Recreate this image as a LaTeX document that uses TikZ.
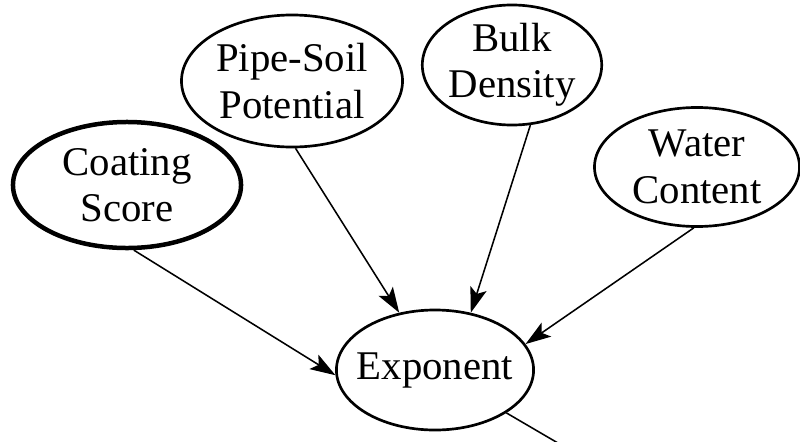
\documentclass[tikz,border=0pt]{standalone}
\usepackage{fontspec}
\setmainfont{Liberation Serif}
\usetikzlibrary{shapes.geometric,arrows.meta}

\begin{document}
\begin{tikzpicture}[x=0.025cm,y=-0.025cm,
		var/.style={shape=ellipse, draw=black, line width=1.9pt, inner sep=0pt, align=center, font=\fontsize{29}{33}\selectfont},
		link/.style={line width=1.1pt, -{Stealth[length=18pt,width=12pt,inset=4pt]}}]
				\useasboundingbox (0,0) rectangle (800,441);
				\clip (0,0) rectangle (800,441);
				\node[var, line width=3.2pt, minimum width=5.7cm, minimum height=3.15cm] (coat) at (127,185) {Coating\\Score};
				\node[var, minimum width=5.525cm, minimum height=3.3cm] (pipe) at (292,81) {Pipe-Soil\\Potential};
				\node[var, minimum width=4.4cm, minimum height=3.0cm] (bulk) at (512,65) {Bulk\\Density};
				\node[var, minimum width=5.125cm, minimum height=2.975cm] (water) at (697,167) {Water\\Content};
				\node[var, inner xsep=-6pt, minimum width=4.875cm, minimum height=3.0cm] (expo) at (435,370) {Exponent};
				\coordinate (out) at (575,453);
				\draw[link] (coat.-84) -- (expo.183);
				\draw[link] (pipe.-87) -- (expo.122);
				\draw[link] (bulk.-73) -- (expo.58);
				\draw[link] (water.-93) -- (expo.16);
				\draw[line width=1.1pt] (expo.-31) -- (out);
			\end{tikzpicture}
\end{document}
